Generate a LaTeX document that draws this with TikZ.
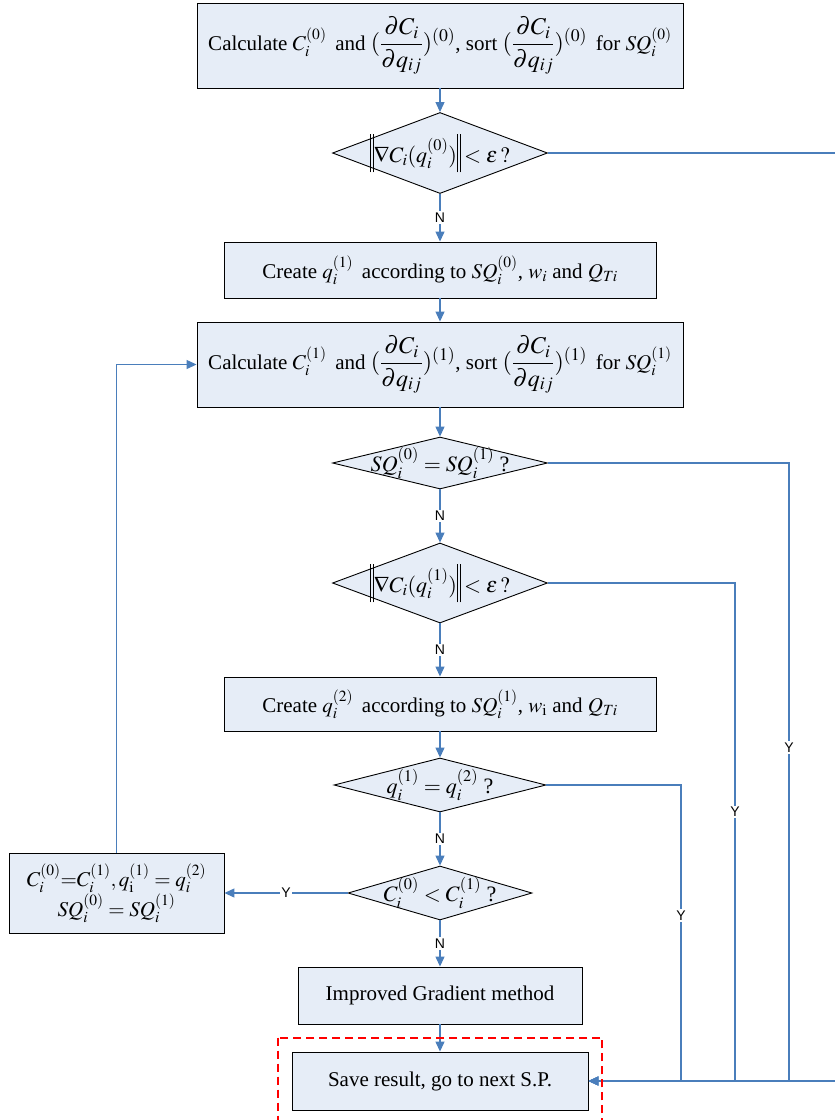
\documentclass[tikz,border=0pt]{standalone}
\usepackage{amsmath}
\usepackage{mathptmx}
\usepackage{fontspec}
\setmainfont{Liberation Serif}
\newfontfamily\ynfont{Liberation Sans}
\usetikzlibrary{shapes.geometric, arrows.meta}
\definecolor{flowblue}{HTML}{4A7EBB}
\definecolor{boxfill}{HTML}{E6EDF7}
\definecolor{savered}{HTML}{FF0000}
\newcommand{\dcq}[1]{{\fontsize{24}{28}\selectfont$(\dfrac{\partial C_i}{\partial q_{ij}})^{(#1)}$}}
\newcommand{\nbar}{\rule[-0.45em]{0.8pt}{1.75em}\hspace{2pt}\rule[-0.45em]{0.8pt}{1.75em}}
\tikzset{
	procbox/.style={draw=black, fill=boxfill, line width=0.9pt, inner sep=0pt,
		align=center, font=\fontsize{21}{30}\selectfont},
	decision/.style={diamond, draw=black, fill=boxfill, line width=0.9pt, inner sep=0pt},
	dtext/.style={font=\fontsize{22}{27}\selectfont, inner sep=0pt},
	flow/.style={draw=flowblue, line width=1.2pt, -{Triangle[length=10pt,width=9pt]}},
	yn/.style={font=\ynfont\fontsize{14}{16}\selectfont, fill=white, inner sep=1.5pt}
}

\begin{document}
\begin{tikzpicture}[x=1pt, y=-1pt]
	\useasboundingbox (0,0) rectangle (835,1120);
	\node[procbox, minimum width=486pt, minimum height=85pt] (calc0) at (440,45.5)
		{Calculate $C_i^{(0)}$\, and \dcq{0}, sort \dcq{0}\, for $SQ_i^{(0)}$};
	\node[decision, minimum width=215pt, minimum height=81pt] (chk0) at (440,153) {};
	\node[dtext] (chk0t) at (chk0) {\nbar$\nabla C_i(q_i^{(0)})$\nbar\,$< \varepsilon\,?$};
	\node[procbox, minimum width=432pt, minimum height=56pt] (create1) at (440,270)
		{Create $q_i^{(1)}$\, according to $SQ_i^{(0)}$, $w_i$ and $Q_{Ti}$};
	\node[procbox, minimum width=486pt, minimum height=85pt] (calc1) at (440,364.5)
		{Calculate $C_i^{(1)}$\, and \dcq{1}, sort \dcq{1}\, for $SQ_i^{(1)}$};
	\node[decision, minimum width=215pt, minimum height=52pt] (sameSQ) at (440,463) {};
	\node[dtext] (sameSQt) at (sameSQ) {$SQ_i^{(0)} = SQ_i^{(1)}$ ?};
	\node[decision, minimum width=215pt, minimum height=80pt] (chk1) at (440,583) {};
	\node[dtext] (chk1t) at (chk1) {\nbar$\nabla C_i(q_i^{(1)})$\nbar\,$< \varepsilon\,?$};
	\node[procbox, minimum width=432pt, minimum height=54pt] (create2) at (440,704)
		{Create $q_i^{(2)}$\, according to $SQ_i^{(1)}$, $w_{\mathrm{i}}$ and $Q_{Ti}$};
	\node[decision, minimum width=212pt, minimum height=54pt] (sameq) at (440,785) {};
	\node[dtext] (sameqt) at (sameq) {$q_i^{(1)} = q_i^{(2)}$ ?};
	\node[decision, minimum width=184pt, minimum height=54pt] (less) at (440,893) {};
	\node[dtext] (lesst) at (less) {$C_i^{(0)} < C_i^{(1)}$ ?};
	\node[procbox, minimum width=215pt, minimum height=80pt] (update) at (116.5,893)
		{$C_i^{(0)}{=}C_i^{(1)}, q_{\mathrm{i}}^{(1)} = q_i^{(2)}$\\ $SQ_i^{(0)} = SQ_i^{(1)}$};
	\node[procbox, minimum width=284pt, minimum height=57pt] (improve) at (440,995.5)
		{Improved Gradient method};
	\node[procbox, minimum width=296pt, minimum height=58pt] (save) at (440,1081)
		{Save result, go to next S.P.};

	\coordinate (rail0) at (845,0);
	\coordinate (rail1) at (789,0);
	\coordinate (rail2) at (735,0);
	\coordinate (rail3) at (681,0);

	\draw[flow] (calc0) -- (chk0);
	\draw[flow] (chk0) -- node[yn] {N} (create1);
	\draw[flow] (create1) -- (calc1);
	\draw[flow] (calc1) -- (sameSQ);
	\draw[flow] (sameSQ) -- node[yn] {N} (chk1);
	\draw[flow] (chk1) -- node[yn] {N} (create2);
	\draw[flow] (create2) -- (sameq);
	\draw[flow] (sameq) -- node[yn] {N} (less);
	\draw[flow] (less) -- node[yn] {N} (improve);
	\draw[flow] (improve) -- (save);
	\draw[flow] (less) -- node[yn] {Y} (update);
	\draw[flow] (update) |- (calc1);

	\draw[flow] (chk0.east) -| (rail0 |- save.east) -- (save.east);
	\draw[flow] (sameSQ.east) -| node[yn, pos=0.73] {Y} (rail1 |- save.east) -- (save.east);
	\draw[flow] (chk1.east) -| node[yn, pos=0.73] {Y} (rail2 |- save.east) -- (save.east);
	\draw[flow] (sameq.east) -| node[yn, pos=0.72] {Y} (rail3 |- save.east) -- (save.east);

	\draw[savered, line width=2pt, dash pattern=on 8pt off 5pt]
		([shift={(-14,-14)}]save.north west) rectangle ([shift={(14,30)}]save.south east);
\end{tikzpicture}
\end{document}
